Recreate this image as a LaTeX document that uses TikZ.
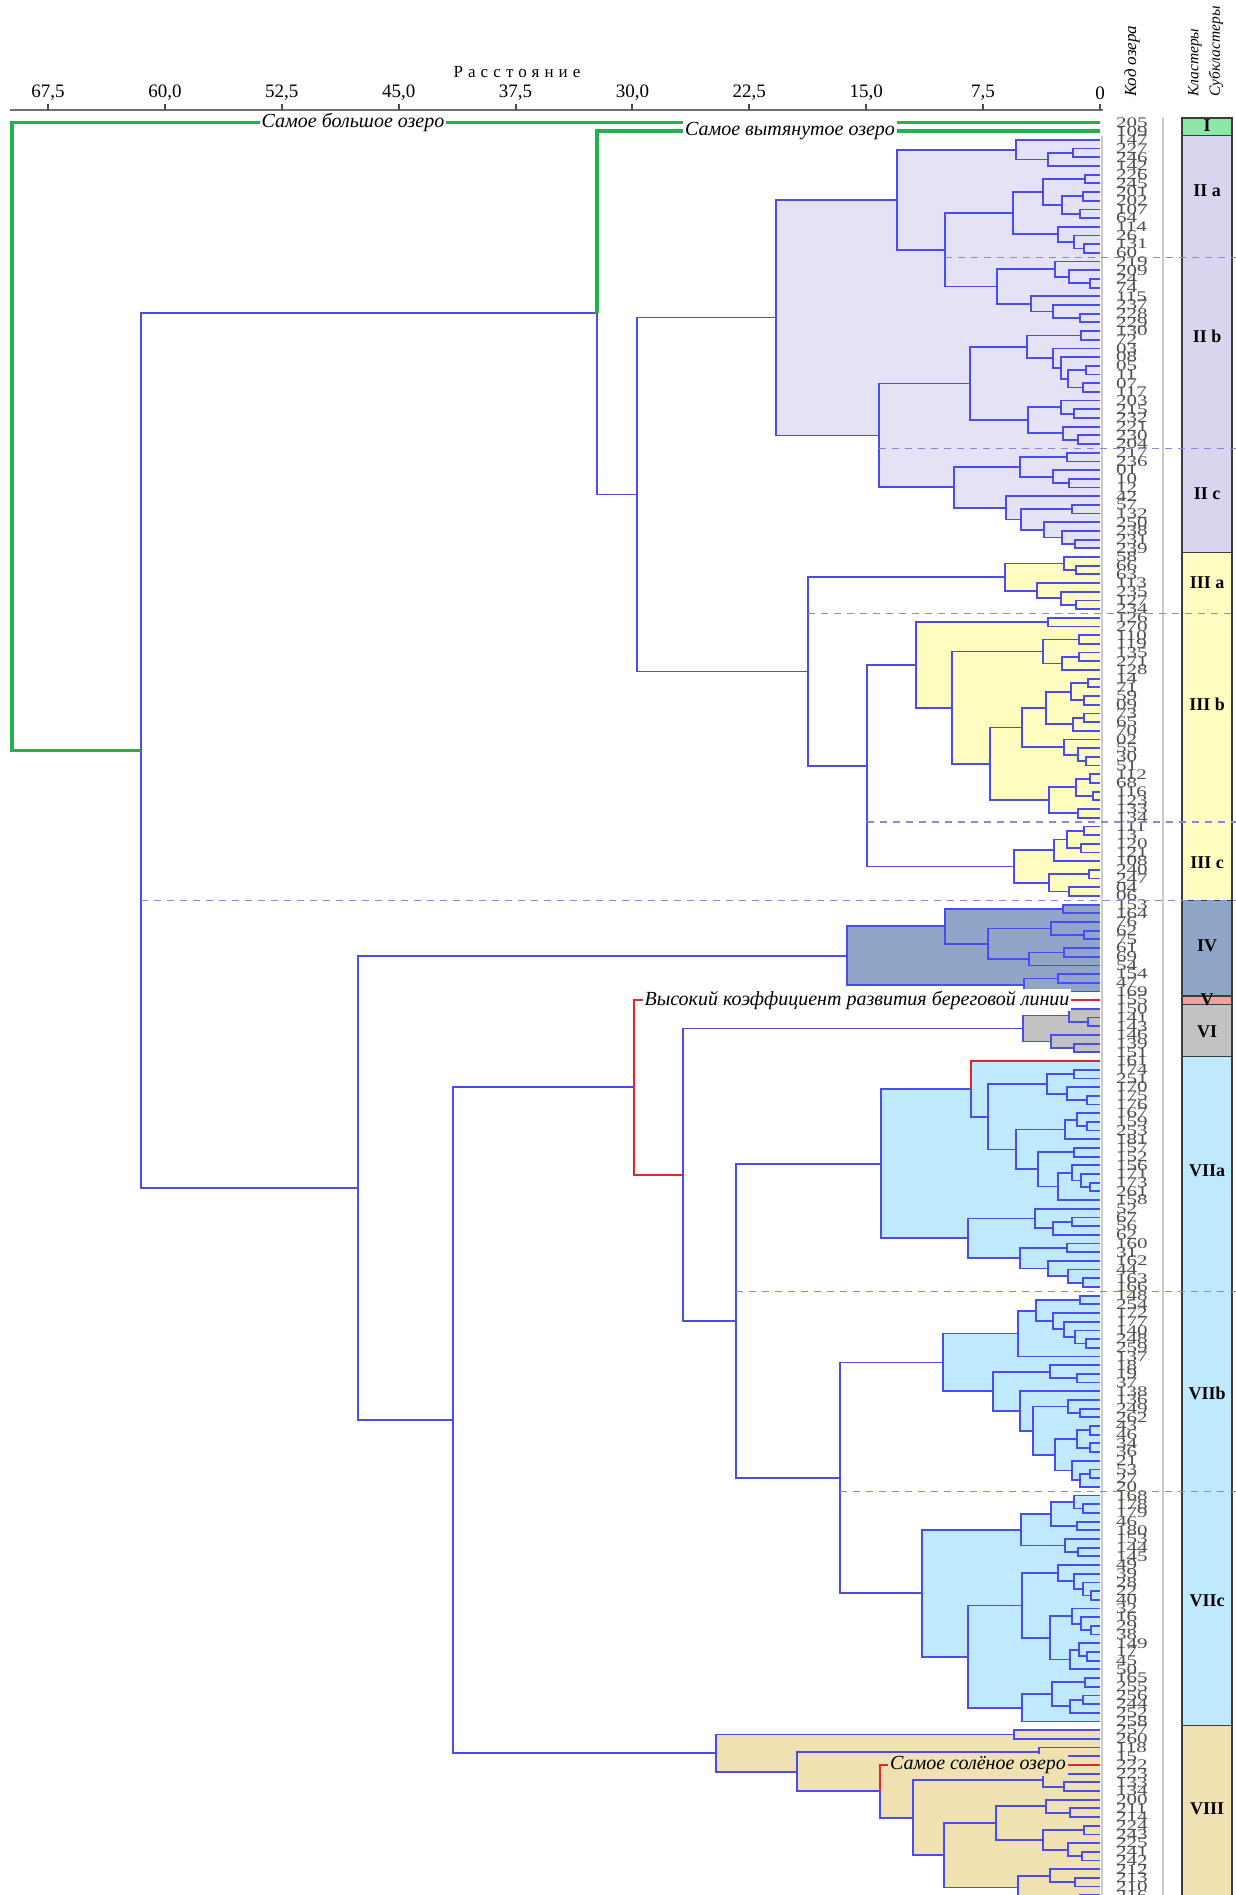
\documentclass[tikz,border=0pt]{standalone}
\usepackage{fontspec}
\setmainfont{Liberation Serif}
\newfontfamily\spacedfont[LetterSpace=30]{Liberation Serif}
\usepackage{tikz}
\usetikzlibrary{calc,positioning}
\pgfdeclarelayer{bg}
\pgfsetlayers{bg,main}
\definecolor{dblue}{HTML}{4B4BF5}
\definecolor{dgreen}{HTML}{22B14C}
\definecolor{dred}{HTML}{E4262C}
\definecolor{dsep}{HTML}{8A86D8}
\definecolor{codegray}{HTML}{4E4E4E}
\definecolor{boxgray}{HTML}{3C3C3C}
\definecolor{rulegray}{HTML}{CCCCCC}
\definecolor{axisgray}{HTML}{707070}
\definecolor{clI}{HTML}{8DE8A8}
\definecolor{clII}{HTML}{E6E2F5}
\definecolor{clIIbox}{HTML}{DAD5EE}
\definecolor{clIII}{HTML}{FFFCC0}
\definecolor{clIV}{HTML}{8FA6C9}
\definecolor{clV}{HTML}{F2A0A0}
\definecolor{clVI}{HTML}{C2C2C2}
\definecolor{clVII}{HTML}{BEE9FE}
\definecolor{clVIII}{HTML}{EFE1B2}

% merge: [style]{name}{upper child}{lower child}{x}
\def\fillc{none}
\newcommand{\mrg}[5][den]{%
  \coordinate (hx) at (#5,0);
  \coordinate (hm) at ($(#3)!.5!(#4)$);
  \coordinate (#2) at (hm -| hx);
  \begin{pgfonlayer}{bg}
    \path[fill=\fillc] (#3 -| #2) rectangle (#4 -| lend);
  \end{pgfonlayer}
  \draw[#1] (#3) -| (#2) |- (#4);
}

\begin{document}
\begin{tikzpicture}[x=1pt,y=-1pt,
  den/.style={draw=dblue,line width=1.8pt},
  grn/.style={draw=dgreen,line width=3.8pt},
  redl/.style={draw=dred,line width=2pt},
  subsep/.style={draw=dsep,line width=1.3pt,dash pattern=on 7pt off 6pt},
  code/.style={anchor=west,inner sep=0pt,text=codegray,yscale=.7,
               font=\fontsize{21}{21}\selectfont},
  tag/.style={fill=white,inner sep=2pt,font=\fontsize{20}{20}\selectfont\itshape},
  ticklab/.style={font=\fontsize{19}{19}\selectfont},
  head/.style={rotate=90,anchor=west,inner sep=0pt,
               font=\fontsize{17}{17}\selectfont\itshape},
  box/.style={draw=boxgray,line width=1.3pt},
  clab/.style={font=\fontsize{18}{18}\selectfont\bfseries},
  rulel/.style={draw=rulegray,line width=1.5pt},
  axline/.style={draw=axisgray,line width=2pt}
]
\useasboundingbox (0,0) rectangle (1236,1895);
\begin{pgfonlayer}{bg}
  \fill[white] (0,0) rectangle (1236,1895);
\end{pgfonlayer}
\coordinate (lend) at (1100,0);
\coordinate (rim) at (1236,0);
\coordinate (bl) at (1182,0);
\coordinate (br) at (1232,0);

% axis
\node[font=\fontsize{17}{17}\selectfont\spacedfont] (ttl) at (517,72) {Расстояние};
\draw[axline] (10,110) -- (1103,110);
\foreach \d/\t [count=\j] in {67.5/{67,5},60/{60,0},52.5/{52,5},45/{45,0},37.5/{37,5},
    30/{30,0},22.5/{22,5},15/{15,0},7.5/{7,5},0/0} {
  \draw[axline,draw=black!70] ({1100-15.585*\d},104) -- ++(0,6);
  \node[ticklab] (tk\j) at ({1100-15.585*\d},93) {\t};
}
\node[head] (hcode) at (1132,97) {Код озера};
\node[head,font=\fontsize{15.5}{15.5}\selectfont\itshape] (hclu) at (1195,97) {Кластеры};
\node[head,font=\fontsize{15.5}{15.5}\selectfont\itshape] (hsub) at (1216,97) {Субкластеры};
\draw[rulel] (1163,117) -- (1163,1895);
\draw[rulel] (1102,136) -- (1102,1895);

% leaves
\foreach \t [count=\i] in {205,109,147,227,246,142,226,245,201,202,
  107,64,114,26,131,60,219,209,24,74,115,237,228,229,130,72,03,08,05,11,
  07,117,203,215,232,221,230,204,217,236,01,10,12,42,57,132,250,238,231,239,
  58,66,63,113,235,127,234,126,270,110,119,135,271,128,14,71,59,09,73,65,
  70,02,55,30,51,112,68,116,123,133,134,111,13,120,121,108,240,247,04,06,
  153,164,76,62,75,61,69,54,154,47,169,155,150,141,143,146,139,151,161,174,
  251,170,175,176,167,159,253,181,157,152,156,171,173,261,158,52,67,56,62,160,
  31,162,44,163,166,148,254,172,177,140,248,259,137,18,19,37,138,136,249,262,
  43,46,34,36,21,53,27,20,168,178,179,46,180,153,144,145,49,39,28,22,
  40,32,16,29,38,149,17,45,50,165,255,256,244,252,258,257,260,118,15,222,
  223,133,134,200,211,214,224,243,225,241,242,212,213,210,216} {
  \coordinate (l\i) at (1100,{122.5+8.69*(\i-1)});
  \node[code] (lab\i) at (1116,{122.5+8.69*(\i-1)}) {\t};
}
\coordinate (l206) at (1100,1903.4);

% cluster II
\def\fillc{clII}
\mrg{a1}{l4}{l5}{1073}
\mrg{a2}{a1}{l6}{1048}
\mrg{a3}{l3}{a2}{1016}
\mrg{a4}{l7}{l8}{1085}
\mrg{a5}{l9}{l10}{1083}
\mrg{a6}{l11}{l12}{1080}
\mrg{a7}{a5}{a6}{1062}
\mrg{a8}{a4}{a7}{1043}
\mrg{a9}{l15}{l16}{1084}
\mrg{a10}{l14}{a9}{1074}
\mrg{a11}{l13}{a10}{1058}
\mrg{a12}{a8}{a11}{1013}
\mrg{b1}{l19}{l20}{1090}
\mrg{b2}{l18}{b1}{1069}
\mrg{b3}{l17}{b2}{1055}
\mrg{b4}{l23}{l24}{1080}
\mrg{b5}{l22}{b4}{1053}
\mrg{b6}{l21}{b5}{1031}
\mrg{b7}{b3}{b6}{997}
\mrg{a13}{a12}{b7}{945}
\mrg{a14}{a3}{a13}{897}
\mrg{b8}{l25}{l26}{1081}
\mrg{b9}{l29}{l30}{1086}
\mrg{b10}{l31}{l32}{1083}
\mrg{b11}{b9}{b10}{1068}
\mrg{b12}{l28}{b11}{1061}
\mrg{b13}{l27}{b12}{1053}
\mrg{b14}{b8}{b13}{1027}
\mrg{b15}{l34}{l35}{1074}
\mrg{b16}{l33}{b15}{1061}
\mrg{b17}{l37}{l38}{1078}
\mrg{b18}{l36}{b17}{1063}
\mrg{b19}{b16}{b18}{1028}
\mrg{b20}{b14}{b19}{970}
\mrg{c1}{l39}{l40}{1067}
\mrg{c2}{l42}{l43}{1069}
\mrg{c3}{l41}{c2}{1053}
\mrg{c4}{c1}{c3}{1020}
\mrg{c5}{l45}{l46}{1072}
\mrg{c6}{l49}{l50}{1075}
\mrg{c7}{l48}{c6}{1062}
\mrg{c8}{l47}{c7}{1044}
\mrg{c9}{c5}{c8}{1021}
\mrg{c10}{l44}{c9}{1006}
\mrg{c11}{c4}{c10}{954}
\mrg{c12}{b20}{c11}{879}
\mrg{c13}{a14}{c12}{776}

% cluster III
\def\fillc{clIII}
\mrg{d1}{l52}{l53}{1076}
\mrg{d2}{l51}{d1}{1064}
\mrg{d3}{l56}{l57}{1076}
\mrg{d4}{l55}{d3}{1061}
\mrg{d5}{l54}{d4}{1037}
\mrg{d6}{d2}{d5}{1005}
\mrg{e1}{l58}{l59}{1048}
\mrg{e2}{l60}{l61}{1079}
\mrg{e3}{l62}{l63}{1079}
\mrg{e4}{e3}{l64}{1062}
\mrg{e5}{e2}{e4}{1043}
\mrg{e6}{l65}{l66}{1088}
\mrg{e7}{l67}{l68}{1084}
\mrg{e8}{e6}{e7}{1071}
\mrg{e9}{l69}{l70}{1084}
\mrg{e10}{e9}{l71}{1073}
\mrg{e11}{e8}{e10}{1046}
\mrg{e12}{l74}{l75}{1086}
\mrg{e13}{l73}{e12}{1078}
\mrg{e14}{l72}{e13}{1064}
\mrg{e15}{e11}{e14}{1022}
\mrg{e16}{l76}{l77}{1090}
\mrg{e17}{l78}{l79}{1093}
\mrg{e18}{e16}{e17}{1076}
\mrg{e19}{l80}{l81}{1078}
\mrg{e20}{e18}{e19}{1049}
\mrg{e21}{e15}{e20}{990}
\mrg{e22}{e5}{e21}{952}
\mrg{e23}{e1}{e22}{916}
\mrg{f1}{l82}{l83}{1084}
\mrg{f2}{l84}{l85}{1081}
\mrg{f3}{f1}{f2}{1067}
\mrg{f4}{f3}{l86}{1054}
\mrg{f5}{l87}{l88}{1089}
\mrg{f6}{l89}{l90}{1069}
\mrg{f7}{f5}{f6}{1049}
\mrg{f8}{f4}{f7}{1014}
\def\fillc{none}
\mrg{f9}{e23}{f8}{867}
\mrg{f10}{d6}{f9}{808}
\mrg{g1}{c13}{f10}{637}

% cluster IV
\def\fillc{clIV}
\mrg{h1}{l91}{l92}{1063}
\mrg{h2}{l94}{l95}{1084}
\mrg{h3}{l93}{h2}{1051}
\mrg{h4}{l96}{l97}{1064}
\mrg{h5}{h4}{l98}{1029}
\mrg{h6}{h3}{h5}{988}
\mrg{h7}{h1}{h6}{945}
\mrg{h8}{l99}{l100}{1058}
\mrg{h9}{h8}{l101}{1024}
\mrg{h10}{h7}{h9}{847}

% cluster VI
\def\fillc{clVI}
\mrg{k1}{l104}{l105}{1088}
\mrg{k2}{l103}{k1}{1069}
\mrg{k3}{l107}{l108}{1074}
\mrg{k4}{l106}{k3}{1051}
\mrg{k5}{k2}{k4}{1023}

% cluster VII
\def\fillc{clVII}
\mrg{m1}{l110}{l111}{1074}
\mrg{m2}{l113}{l114}{1087}
\mrg{m3}{l112}{m2}{1067}
\mrg{m4}{m1}{m3}{1047}
\mrg{m5}{l116}{l117}{1087}
\mrg{m6}{l115}{m5}{1077}
\mrg{m7}{m6}{l118}{1065}
\mrg{m8}{l119}{l120}{1074}
\mrg{m9}{l123}{l124}{1090}
\mrg{m10}{l122}{m9}{1081}
\mrg{m11}{l121}{m10}{1072}
\mrg{m12}{m11}{l125}{1058}
\mrg{m13}{m8}{m12}{1038}
\mrg{m14}{m7}{m13}{1016}
\mrg{m15}{m4}{m14}{988}
\mrg{m16}{l109}{m15}{971}
\mrg{m17}{l127}{l128}{1072}
\mrg{m18}{m17}{l129}{1053}
\mrg{m19}{l126}{m18}{1035}
\mrg{m20}{l130}{l131}{1067}
\mrg{m21}{l134}{l135}{1083}
\mrg{m22}{l133}{m21}{1068}
\mrg{m23}{l132}{m22}{1048}
\mrg{m24}{m20}{m23}{1020}
\mrg{m25}{m19}{m24}{968}
\mrg{m26}{m16}{m25}{881}
\mrg{p1}{l136}{l137}{1080}
\mrg{p2}{l141}{l142}{1086}
\mrg{p3}{l140}{p2}{1075}
\mrg{p4}{l139}{p3}{1064}
\mrg{p5}{l138}{p4}{1053}
\mrg{p6}{p1}{p5}{1036}
\mrg{p7}{p6}{l143}{1018}
\mrg{p8}{l145}{l146}{1077}
\mrg{p9}{l144}{p8}{1050}
\mrg{p10}{l149}{l150}{1080}
\mrg{p11}{l148}{p10}{1068}
\mrg{p12}{l151}{l152}{1090}
\mrg{p13}{l153}{l154}{1090}
\mrg{p14}{p12}{p13}{1077}
\mrg{p15}{l156}{l157}{1090}
\mrg{p16}{p15}{l158}{1080}
\mrg{p17}{l155}{p16}{1072}
\mrg{p18}{p14}{p17}{1055}
\mrg{p19}{p11}{p18}{1033}
\mrg{p20}{l147}{p19}{1020}
\mrg{p21}{p9}{p20}{993}
\mrg{p22}{p7}{p21}{943}
\mrg{q1}{l160}{l161}{1083}
\mrg{q2}{l159}{q1}{1074}
\mrg{q3}{l162}{l163}{1077}
\mrg{q4}{q2}{q3}{1051}
\mrg{q5}{l165}{l166}{1078}
\mrg{q6}{l164}{q5}{1065}
\mrg{q7}{q4}{q6}{1021}
\mrg{q8}{l170}{l171}{1091}
\mrg{q9}{l169}{q8}{1083}
\mrg{q10}{l168}{q9}{1074}
\mrg{q11}{l167}{q10}{1058}
\mrg{q12}{l174}{l175}{1091}
\mrg{q13}{l173}{q12}{1081}
\mrg{q14}{l172}{q13}{1072}
\mrg{q15}{l177}{l178}{1087}
\mrg{q16}{l176}{q15}{1079}
\mrg{q17}{q16}{l179}{1070}
\mrg{q18}{q14}{q17}{1050}
\mrg{q19}{q11}{q18}{1022}
\mrg{q20}{l180}{l181}{1085}
\mrg{q21}{l182}{l183}{1083}
\mrg{q22}{q21}{l184}{1070}
\mrg{q23}{q20}{q22}{1052}
\mrg{q24}{q23}{l185}{1022}
\mrg{q25}{q19}{q24}{968}
\mrg{q26}{q7}{q25}{922}

% cluster VIII
\def\fillc{clVIII}
\mrg{r1}{l186}{l187}{1014}
\mrg{r2}{l188}{l189}{1039}
\mrg{r3}{l192}{l193}{1064}
\mrg{r4}{l191}{r3}{1043}
\mrg{r5}{l195}{l196}{1070}
\mrg{r6}{l194}{r5}{1046}
\mrg{r7}{l197}{l198}{1084}
\mrg{r8}{l200}{l201}{1082}
\mrg{r9}{l199}{r8}{1068}
\mrg{r10}{r7}{r9}{1043}
\mrg{r11}{r6}{r10}{996}
\mrg{r12}{l203}{l204}{1075}
\mrg{r13}{l202}{r12}{1050}
\mrg{r14}{l205}{l206}{1080}
\mrg{r15}{r13}{r14}{1018}
\mrg{r16}{r11}{r15}{944}
\mrg{r17}{r4}{r16}{913}
\mrg{r18}{l190}{r17}{880}
\mrg{r19}{r2}{r18}{797}
\mrg{r20}{r1}{r19}{716}

% upper levels
\def\fillc{none}
\mrg{t1}{p22}{q26}{840}
\mrg{t2}{m26}{t1}{736}
\mrg{t3}{k5}{t2}{683}
\mrg[redl]{t4}{l102}{t3}{634}
\mrg{t5}{t4}{r20}{453}
\mrg{t6}{h10}{t5}{358}
\mrg{g2}{l2}{g1}{597}
\mrg{g3}{g2}{t6}{141}
\mrg[grn]{g4}{l1}{g3}{12}
\draw[grn] (l2) -| (g2);
\draw[redl] (l109) -| (m16);
\draw[redl] (l190) -| (r18);

\node[tag] (tbig) at ([xshift=-747pt]l1) {Самое большое озеро};
\node[tag] (tlong) at ([xshift=-310pt]l2) {Самое вытянутое озеро};
\node[tag] (tshore) at ([xshift=-243pt]l102) {Высокий коэффициент развития береговой линии};
\node[tag,fill=clVIII] (tsalt) at ([xshift=-122pt]l190) {Самое солёное озеро};

% cluster column
\coordinate (z0) at (0,118);
\coordinate (z1) at ($(l2)!.5!(l3)$);
\coordinate (z2) at ($(l50)!.5!(l51)$);
\coordinate (z3) at ($(l90)!.5!(l91)$);
\coordinate (z4) at ($(l101)!.5!(l102)$);
\coordinate (z5) at ($(l102)!.5!(l103)$);
\coordinate (z6) at ($(l108)!.5!(l109)$);
\coordinate (z7) at ($(l185)!.5!(l186)$);
\coordinate (z8) at (0,1900);
\foreach \u/\v/\c in {z0/z1/clI,z1/z2/clIIbox,z2/z3/clIII,z3/z4/clIV,
    z4/z5/clV,z5/z6/clVI,z6/z7/clVII,z7/z8/clVIII}
  \draw[box,fill=\c] (\u -| bl) rectangle (\v -| br);
\foreach \y/\t [count=\j] in {126/I,191/II a,336/II b,494/II c,583/III a,704/III b,
    863/III c,946/IV,1000/V,1032/VI,1171/VIIa,1393/VIIb,1601/VIIc,1809/VIII}
  \node[clab] (cl\j) at (1207,\y) {\t};

% subcluster borders
\coordinate (s1) at ($(l16)!.5!(l17)$);
\coordinate (s2) at ($(l38)!.5!(l39)$);
\coordinate (s3) at ($(l57)!.5!(l58)$);
\coordinate (s4) at ($(l81)!.5!(l82)$);
\coordinate (s5) at ($(l90)!.5!(l91)$);
\coordinate (s6) at ($(l135)!.5!(l136)$);
\coordinate (s7) at ($(l158)!.5!(l159)$);
\foreach \s/\n in {s1/a13,s2/c12,s3/f10,s4/f9,s5/g3,s6/t2,s7/t1}
  \draw[subsep] (\s -| \n) -- (\s -| rim);
\end{tikzpicture}
\end{document}
